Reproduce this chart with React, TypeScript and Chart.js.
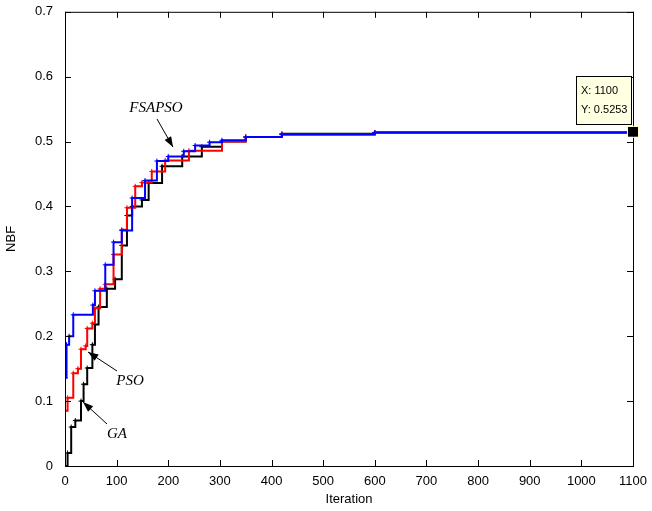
import React, { useEffect, useRef } from 'react';
import Chart from 'chart.js/auto';

// values (stepped convergence curves)
const gaX = [0, 5, 12, 20, 31, 36, 43, 53, 58, 65, 81, 97, 110, 120, 130, 149, 162, 188, 227, 265, 304, 350, 420, 600, 1100];
const gaY = [0, 0.02, 0.06, 0.07, 0.1, 0.126, 0.151, 0.187, 0.218, 0.245, 0.273, 0.288, 0.34, 0.386, 0.4, 0.41, 0.436, 0.462, 0.477, 0.492, 0.5, 0.507, 0.512, 0.514, 0.515];
const psoX = [0, 5, 16, 25, 31, 40, 43, 53, 58, 68, 78, 94, 110, 120, 136, 149, 168, 194, 240, 304, 350, 420, 600, 1100];
const psoY = [0.085, 0.105, 0.143, 0.15, 0.18, 0.185, 0.212, 0.22, 0.243, 0.273, 0.28, 0.326, 0.364, 0.398, 0.431, 0.437, 0.454, 0.471, 0.486, 0.5, 0.507, 0.511, 0.514, 0.515];
const fsX = [0, 3, 8, 16, 54, 58, 78, 94, 110, 130, 155, 178, 200, 230, 252, 280, 304, 350, 420, 600, 1100];
const fsY = [0.136, 0.187, 0.2, 0.233, 0.248, 0.27, 0.31, 0.345, 0.363, 0.413, 0.44, 0.47, 0.477, 0.485, 0.494, 0.499, 0.502, 0.507, 0.511, 0.514, 0.515];
const xTicks = [0, 100, 200, 300, 400, 500, 600, 700, 800, 900, 1000, 1100];
const yTicks = [0, 0.1, 0.2, 0.3, 0.4, 0.5, 0.6, 0.7];

const pts = (xs: number[], ys: number[]) => xs.map((x, i) => ({ x, y: ys[i] }));

const arrow = (ctx: CanvasRenderingContext2D, x1: number, y1: number, x2: number, y2: number) => {
  ctx.beginPath();
  ctx.moveTo(x1, y1);
  ctx.lineTo(x2, y2);
  ctx.stroke();
  const a = Math.atan2(y2 - y1, x2 - x1);
  ctx.beginPath();
  ctx.moveTo(x2, y2);
  ctx.lineTo(x2 - 11 * Math.cos(a - 0.35), y2 - 11 * Math.sin(a - 0.35));
  ctx.lineTo(x2 - 11 * Math.cos(a + 0.35), y2 - 11 * Math.sin(a + 0.35));
  ctx.closePath();
  ctx.fill();
};

const extras = {
  id: 'extras',
  afterDatasetsDraw(chart: any) {
    const { ctx, chartArea: a, scales } = chart;
    const xs = scales.x, ys = scales.y;
    ctx.save();
    ctx.strokeStyle = '#000';
    ctx.lineWidth = 1;
    ctx.strokeRect(a.left + 0.5, a.top + 0.5, a.right - a.left, a.bottom - a.top);
    ctx.beginPath();
    xTicks.forEach((t) => {
      const p = Math.round(xs.getPixelForValue(t)) + 0.5;
      ctx.moveTo(p, a.bottom); ctx.lineTo(p, a.bottom - 6);
      ctx.moveTo(p, a.top); ctx.lineTo(p, a.top + 6);
    });
    yTicks.forEach((t) => {
      const p = Math.round(ys.getPixelForValue(t)) + 0.5;
      ctx.moveTo(a.left, p); ctx.lineTo(a.left + 6, p);
      ctx.moveTo(a.right, p); ctx.lineTo(a.right - 6, p);
    });
    ctx.stroke();

    // annotations
    ctx.fillStyle = '#000';
    ctx.font = 'italic 15px "Liberation Serif", serif';
    ctx.textAlign = 'center';
    ctx.textBaseline = 'middle';
    ctx.fillText('FSAPSO', 156, 108);
    ctx.fillText('PSO', 130, 381);
    ctx.fillText('GA', 117, 434);
    ctx.lineWidth = 1;
    arrow(ctx, 157, 119, 173, 147);
    arrow(ctx, 117, 371, 88, 352);
    arrow(ctx, 107, 424, 83, 402);

    // data tip
    const mx = xs.getPixelForValue(1100), my = ys.getPixelForValue(0.515);
    ctx.fillStyle = '#000';
    ctx.strokeStyle = '#ffffcc';
    ctx.fillRect(mx - 5, my - 5, 10, 10);
    ctx.strokeRect(mx - 5.5, my - 5.5, 11, 11);
    ctx.fillStyle = '#ffffe1';
    ctx.strokeStyle = '#000';
    ctx.fillRect(576.5, 76.5, 55, 48);
    ctx.strokeRect(576.5, 76.5, 55, 48);
    ctx.fillStyle = '#000';
    ctx.font = '11px "Liberation Sans", Arial, sans-serif';
    ctx.textAlign = 'left';
    ctx.fillText('X: 1100', 581, 91);
    ctx.fillText('Y: 0.5253', 581, 110);
    ctx.restore();
  },
};

const App: React.FC = () => {
  const chartRef = useRef<HTMLCanvasElement>(null);

  useEffect(() => {
    document.body.style.margin = '0';
    if (!chartRef.current) return;
    const line = (data: any, color: string) => ({
      data,
      borderColor: color,
      backgroundColor: color,
      borderWidth: 2,
      stepped: true,
      pointStyle: 'cross',
      pointRadius: 2.5,
      pointBorderWidth: 1,
    });
    const chart = new Chart(chartRef.current, {
      type: 'line',
      data: {
        // first dataset is drawn on top
        datasets: [
          line(pts(fsX, fsY), '#0000ff'),
          line(pts(psoX, psoY), '#ff0000'),
          line(pts(gaX, gaY), '#000000'),
        ] as any,
      },
      options: {
        animation: false,
        responsive: false,
        events: [],
        layout: { padding: { top: 7, right: 19 } },
        plugins: { legend: { display: false }, tooltip: { enabled: false } },
        scales: {
          x: {
            type: 'linear',
            min: 0,
            max: 1100,
            afterBuildTicks: (s: any) => { s.ticks = xTicks.map((v) => ({ value: v })); },
            afterFit: (s: any) => { s.height = 45; },
            grid: { display: false },
            border: { display: false },
            ticks: { color: '#000', font: { family: 'Liberation Sans', size: 13 }, padding: 0, callback: (v: any) => String(v) },
            title: { display: true, text: 'Iteration', color: '#000', font: { family: 'Liberation Sans', size: 13 }, padding: { top: 1 } },
          },
          y: {
            min: 0,
            max: 0.7,
            afterBuildTicks: (s: any) => { s.ticks = yTicks.map((v) => ({ value: v })); },
            afterFit: (s: any) => { s.width = 65; },
            grid: { display: false },
            border: { display: false },
            ticks: { color: '#000', font: { family: 'Liberation Sans', size: 13 }, padding: 4, callback: (v: any) => String(+Number(v).toFixed(1)) },
            title: { display: true, text: 'NBF', color: '#000', font: { family: 'Liberation Sans', size: 13 }, padding: { bottom: 4 } },
          },
        },
      },
      plugins: [extras],
    });
    return () => chart.destroy();
  }, []);

  return <canvas ref={chartRef} width={652} height={511} style={{ display: 'block' }} />;
};

export default App;
